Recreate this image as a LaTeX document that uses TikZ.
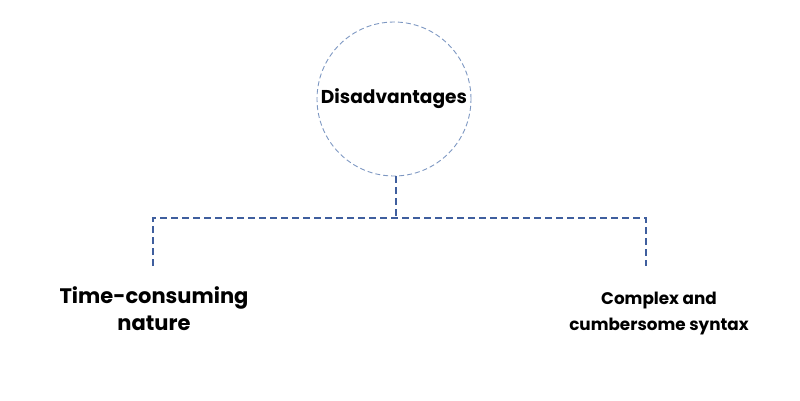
\documentclass[tikz,border=0pt]{standalone}
\usepackage{fontspec}
\setmainfont{Poppins}
\begin{document}
\begin{tikzpicture}[x=1pt,y=-1pt,
  conn/.style={draw=linkblue,line width=1.6pt,dash pattern=on 7pt off 4pt},
  lbl/.style={align=center, text=black, inner sep=0pt}]
\definecolor{linkblue}{HTML}{3F5E9E}
\definecolor{circblue}{HTML}{7D97C2}
\useasboundingbox (0,0) rectangle (800,400);
\node[circle, draw=circblue, line width=0.9pt, dash pattern=on 5pt off 3pt, minimum size=154pt, inner sep=0pt] (root) at (394,99) {};
\node[lbl, font=\bfseries\fontsize{18.6}{20}\selectfont] (roottxt) at (394,99) {Disadvantages};
\coordinate (top) at (396,176);
\coordinate (mid) at (396,218);
\coordinate (l) at (153,218);
\coordinate (r) at (646,218);
\coordinate (lend) at (153,266);
\coordinate (rend) at (646,266);
\draw[conn] (top) -- (mid);
\draw[conn] (lend) -- (l) -- (r) -- (rend);
\node[lbl, font=\bfseries\fontsize{21}{27}\selectfont] (a) at (154,309) {Time-consuming\\nature};
\node[lbl, font=\bfseries\fontsize{16.8}{26}\selectfont] (b) at (659,314) {Complex and\hspace{8pt}\\cumbersome syntax};
\end{tikzpicture}
\end{document}
